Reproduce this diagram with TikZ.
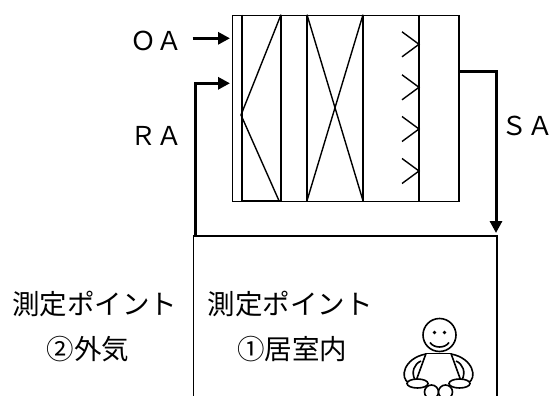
\documentclass[tikz,border=0pt]{standalone}
\usepackage{fontspec}
\newfontfamily\jpfont{Noto Sans CJK JP}
\usetikzlibrary{arrows.meta}
\begin{document}
\begin{tikzpicture}[x=1pt,y=-1pt,
  thinline/.style={line width=1.4pt,line join=miter},
  flowline/.style={line width=3pt,-{Triangle[length=12pt,width=12pt]}},
  label/.style={font=\jpfont\fontsize{26}{26}\selectfont,inner sep=0pt},
  jplabel/.style={font=\jpfont\fontsize{27.5}{27.5}\selectfont,inner sep=0pt},
  figline/.style={line width=1.6pt}]
\useasboundingbox (0,0) rectangle (554,396);

% air handling unit casing
\node[draw,thinline,minimum width=226.6pt,minimum height=186pt,inner sep=0pt,anchor=north west]
  (ahu) at (231.7,14.7) {};
% internal sections
\foreach \xx in {242,281,307,363,419}
  \draw[thinline] (\xx,14.7) -- (\xx,200.7);
% pre-filter (V shape)
\draw[thinline] (281,14.7) -- (241,115) -- (279,200.7);
\draw[line width=2.2pt] (242,200.7) -- (280,200.7);
% coil (X shape)
\draw[thinline] (307,14.7) -- (363,200.7);
\draw[thinline] (363,14.7) -- (307,200.7);
% nozzles
\foreach \yy in {44.3,87.3,129,171}
  \draw[thinline] (402,\yy-12.5) -- (419,\yy) -- (402,\yy+12.5);

% room
\coordinate (roomTL) at (193.5,236);
\coordinate (roomTR) at (497,236);
\draw[thinline] (193.5,396) -- (roomTL) -- (roomTR) -- (497,396);

% air flows
\coordinate (oaStart) at (192.7,38.3);
\coordinate (oaEnd) at (230,38.3);
\coordinate (raCorner) at (195,83.3);
\coordinate (raEnd) at (230,83.3);
\coordinate (raStart) at (195,236);
\coordinate (saStart) at (458.3,71.7);
\coordinate (saCorner) at (496,71.7);
\coordinate (saEnd) at (496,233);
\draw[flowline] (oaStart) -- (oaEnd);
\draw[flowline] (raStart) -- (raCorner) -- (raEnd);
\draw[flowline] (saStart) -- (saCorner) -- (saEnd);

% labels
\node[label] (oa) at (156,41) {ＯＡ};
\node[label] (ra) at (156,136) {ＲＡ};
\node[label,anchor=east] (sa) at (554,126) {ＳＡ};
\node[jplabel] (p2a) at (95,304) {測定ポイント};
\node[jplabel] (p2b) at (88,349) {②外気};
\node[jplabel] (p1a) at (290,304) {測定ポイント};
\node[jplabel] (p1b) at (292,349) {①居室内};

% occupant
\begin{scope}[figline]
  \draw (439.5,335) circle (16.5);
  \fill (434.5,332.5) circle (1.9);
  \fill (444.5,332.5) circle (1.9);
  \draw (430,342.5) .. controls (434,348.5) and (445,348.5) .. (449,342.5);
  \draw (426,353.5) -- (451,353.5);
  \draw (426,353.5) -- (416,381);
  \draw (451,353.5) -- (461,381);
  % arms
  \draw (426,354) .. controls (404,358) and (399,378) .. (409,383);
  \draw (415,380) .. controls (411,372) and (414,364) .. (421,361);
  \draw (451,354) .. controls (473,358) and (478,378) .. (468,383);
  \draw (462,380) .. controls (466,372) and (463,364) .. (456,361);
  % legs and feet
  \draw[fill=white] (431.5,392) circle (7);
  \draw[fill=white] (445.5,392) circle (7);
  \draw[fill=white] (417.5,383.5) ellipse (10.5 and 4.5);
  \draw[fill=white] (459.5,383.5) ellipse (10.5 and 4.5);
\end{scope}
\end{tikzpicture}
\end{document}
